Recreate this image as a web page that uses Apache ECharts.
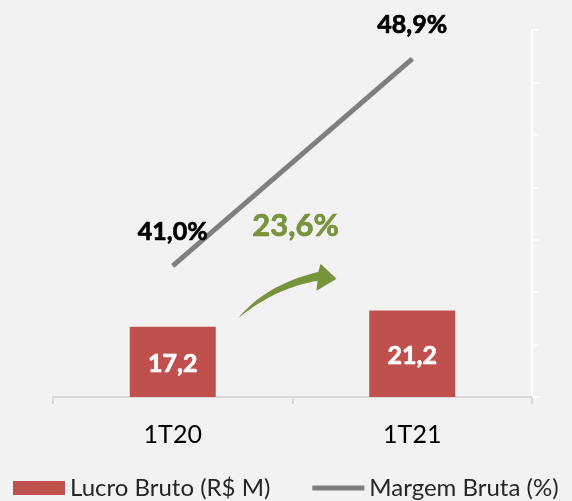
<!DOCTYPE html>
<html>
<head>
<meta charset="utf-8">
<script src="https://cdn.jsdelivr.net/npm/echarts@6/dist/echarts.min.js"></script>
<style>
  html, body { margin: 0; padding: 0; background: #F2F2F2; }
  #chart { width: 572px; height: 501px; }
</style>
</head>
<body>
<div id="chart"></div>
<script>
var categories = ['1T20', '1T21'];
var lucroBruto = [17.2, 21.2];
var margemBruta = [41.0, 48.9];
var crescimento = '23,6%';

var fonte = 'Lato, "Noto Sans", sans-serif';
var chart = echarts.init(document.getElementById('chart'));

function virgula(v, casas) {
    return v.toFixed(casas).replace('.', ',');
}

chart.setOption({
    backgroundColor: '#F2F2F2',
    textStyle: {fontFamily: fonte},
    animation: false,
    grid: {left: 53, right: 40, top: 30, bottom: 104},
    legend: {
        top: 471,
        left: 8,
        itemWidth: 52,
        itemHeight: 14,
        itemGap: 42,
        textStyle: {fontSize: 24, color: '#262626', fontFamily: fonte},
        data: [
            {name: 'Lucro Bruto (R$ M)', icon: 'rect'},
            {name: 'Margem Bruta (%)', icon: 'path://M0 0 H52 V5 H0 Z'}
        ]
    },
    xAxis: {
        type: 'category',
        data: categories,
        axisLine: {lineStyle: {color: '#D9D9D9', width: 2}},
        axisTick: {show: true, length: 7, lineStyle: {color: '#D9D9D9', width: 2}},
        axisLabel: {fontSize: 25, color: '#000', margin: 25, fontFamily: fonte}
    },
    yAxis: [
        {type: 'value', min: 0, max: 90, show: false},
        {
            type: 'value', min: 36, max: 50, interval: 2, position: 'right',
            axisLine: {show: true, lineStyle: {color: '#FFFFFF', width: 2}},
            axisTick: {show: true, length: 7, lineStyle: {color: '#FFFFFF', width: 2}},
            axisLabel: {show: false},
            splitLine: {show: false}
        }
    ],
    series: [
        {
            name: 'Lucro Bruto (R$ M)',
            type: 'bar',
            data: lucroBruto,
            barWidth: 86,
            itemStyle: {color: '#C0504D'},
            label: {
                show: true, position: 'inside', color: '#fff', fontWeight: 'bold', fontSize: 25,
                fontFamily: fonte, textBorderColor: '#fff', textBorderWidth: 0.7,
                offset: [0, 2],
                formatter: function(p) { return virgula(p.value, 1); }
            }
        },
        {
            name: 'Margem Bruta (%)',
            type: 'line',
            yAxisIndex: 1,
            data: margemBruta,
            symbol: 'circle',
            symbolSize: 1,
            lineStyle: {color: '#7F7F7F', width: 5},
            itemStyle: {color: '#7F7F7F'},
            label: {
                show: true, position: 'top', distance: 21, color: '#000', fontWeight: 'bold', fontSize: 25,
                fontFamily: fonte, textBorderColor: '#000', textBorderWidth: 0.7,
                formatter: function(p) { return virgula(p.value, 1) + '%'; }
            }
        }
    ]
});

// seta verde de crescimento, entre as duas barras
var p0 = chart.convertToPixel({xAxisIndex: 0, yAxisIndex: 0}, [0, lucroBruto[0]]);
var p1 = chart.convertToPixel({xAxisIndex: 0, yAxisIndex: 0}, [1, lucroBruto[1]]);
var mx = (p0[0] + p1[0]) / 2;
var ox = mx - 54, oy = p0[1] - 9;

function curva(a, c, b, n) {
    var pts = [];
    for (var i = 0; i <= n; i++) {
        var t = i / n, u = 1 - t;
        pts.push([u * u * a[0] + 2 * u * t * c[0] + t * t * b[0],
                  u * u * a[1] + 2 * u * t * c[1] + t * t * b[1]]);
    }
    return pts;
}
var pontos = curva([0, 0], [27, -33], [80, -46], 20)
    .concat([[82, -54], [98, -39], [78, -27]])
    .concat(curva([79, -37], [37, -30], [0, 0], 20));
pontos = pontos.map(function(p) { return [p[0] + ox, p[1] + oy]; });

chart.setOption({
    graphic: [
        {
            type: 'polygon',
            shape: {points: pontos},
            style: {fill: '#77933C'}
        },
        {
            type: 'text',
            x: mx + 3, y: 226,
            style: {
                text: crescimento, fill: '#77933C', fontSize: 31, fontWeight: 'bold',
                fontFamily: fonte, align: 'center', verticalAlign: 'middle',
                stroke: '#77933C', lineWidth: 0.7
            }
        }
    ]
});
</script>
</body>
</html>
